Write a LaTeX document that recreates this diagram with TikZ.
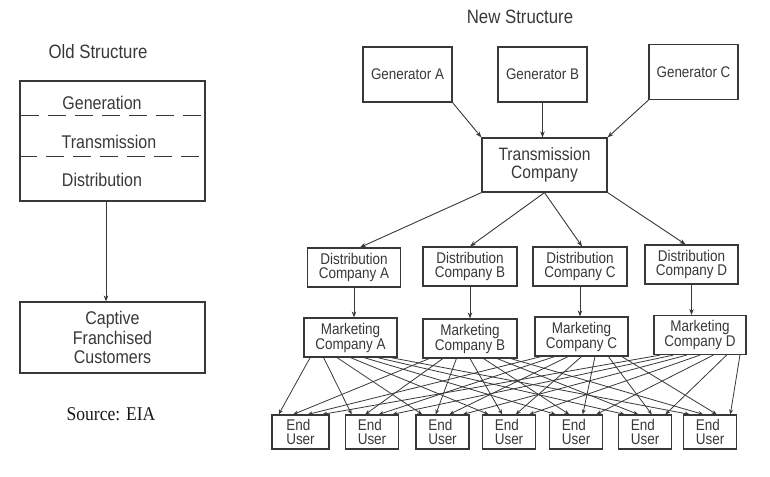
\documentclass[tikz,border=0pt]{standalone}
\usepackage{fontspec}
\setmainfont{Liberation Sans}[FakeStretch=0.87]
\newfontfamily\srcfont{Liberation Serif}[FakeStretch=0.9]
\usetikzlibrary{arrows.meta,calc}
\newcommand{\fs}[2]{\fontsize{#1}{#2}\selectfont}

\begin{document}
\begin{tikzpicture}[x=1pt,y=-1pt, color=black!78, line width=0.9pt, >={Stealth[length=6pt,width=4.5pt]}]
					\tikzstyle{box}=[draw, line width=1.2pt, minimum width=93pt, minimum height=39pt, inner sep=0pt, align=center, font=\fs{15.5}{14}]
					\tikzstyle{gen}=[box, minimum width=89pt, minimum height=55pt]
					\tikzstyle{ubox}=[box, minimum width=53pt, minimum height=34pt, align=left, font=\fs{15.5}{14}]
					\tikzstyle{title}=[font=\fs{19.3}{22}]
					\tikzstyle{lbl}=[font=\fs{18.4}{20}]
					\tikzstyle{sep}=[dash pattern=on 18pt off 9pt, line width=1.1pt]
					\useasboundingbox (0,0) rectangle (770,476);
					
					% Old structure
					\node[title] (oldtitle) at (98,52) {Old Structure};
					\node[box, minimum width=185pt, minimum height=120pt] (old) at (112.5,141) {};
					\node[lbl] (generation) at (102,103) {Generation};
					\node[lbl] (transmission) at (109,142) {Transmission};
					\node[lbl] (distribution) at (102,180) {Distribution};
					\draw[sep] ([xshift=2pt,yshift=-35pt]old.north west) -- ++(186,0);
					\draw[sep] ([yshift=-76pt]old.north west) -- ++(185,0);
					\node[box, minimum width=185pt, minimum height=71pt, font=\fs{18.4}{19.5}] (captive) at (112.5,337.5) {Captive\\Franchised\\Customers};
					\draw[->] ([xshift=-6.5pt]old.south) -- ([xshift=-6.5pt]captive.north);
					\node[font=\srcfont\fs{19.5}{22}, text=black!90] (source) at (111,414) {Source: EIA};
					
					% New structure
					\node[title] (newtitle) at (520,17) {New Structure};
					\node[gen, font=\fs{15.4}{16}] (genA) at (407.5,74.5) {Generator A};
					\node[gen, font=\fs{15.4}{16}] (genB) at (542.5,74.5) {Generator B};
					\node[gen, font=\fs{15.4}{16}] (genC) at (693.5,72) {Generator C};
					\node[box, minimum width=125pt, minimum height=54pt, font=\fs{17.9}{18}] (trans) at (544.5,165) {Transmission\\Company};
					
					\node[box] (distA) at (354,267.5) {Distribution\\Company A};
					\node[box, minimum width=94pt] (distB) at (470,266.5) {Distribution\\Company B};
					\node[box, minimum width=94pt] (distC) at (580,266.5) {Distribution\\Company C};
					\node[box] (distD) at (691.5,264.5) {Distribution\\Company D};
					
					\node[box, font=\fs{15.5}{15}] (mktA) at (350.5,337.5) {Marketing\\Company A};
					\node[box, minimum width=94pt, font=\fs{15.5}{15}] (mktB) at (470,338.5) {Marketing\\Company B};
					\node[box, font=\fs{15.5}{15}] (mktC) at (581.5,336.5) {Marketing\\Company C};
					\node[box, minimum width=92pt, font=\fs{15.5}{15}] (mktD) at (700,335) {Marketing\\Company D};
					
					\node[ubox, minimum width=57pt] (user1) at (300.5,432) {End\\User};
					\node[ubox] (user2) at (372,432) {End\\User};
					\node[ubox] (user3) at (442.5,432) {End\\User};
					\node[ubox] (user4) at (509,432) {End\\User};
					\node[ubox] (user5) at (576,432) {End\\User};
					\node[ubox] (user6) at (645,432) {End\\User};
					\node[ubox] (user7) at (710,432) {End\\User};
					
					% Draw arrows
					\draw[->] (genA.south east) -- (trans.north west);
					\draw[->] (genB.south) -- (genB.south |- trans.north);
					\draw[->] (genC.south west) -- (trans.north east);
					\draw[->] (trans.south west) -- ([xshift=6pt]distA.north);
					\draw[->] (trans.south) -- (distB.north);
					\draw[->] (trans.south) -- ([xshift=2pt]distC.north);
					\draw[->] (trans.south east) -- ([xshift=-6pt]distD.north);
					\foreach \d in {A,B,C,D}
						\draw[->] (dist\d.south) -- (dist\d.south |- mkt\d.north);
					
					\foreach \m [count=\i] in {A,B,C,D}
						\foreach \u in {1,...,7}
							\draw[->, line width=0.8pt, >={Stealth[length=5pt,width=4pt]}] ($(mkt\m.south west)!{(\u-0.5)/7}!(mkt\m.south east)$) -- ($(user\u.north west)!{(\i-0.5)/4}!(user\u.north east)$);
					
				\end{tikzpicture}
\end{document}
